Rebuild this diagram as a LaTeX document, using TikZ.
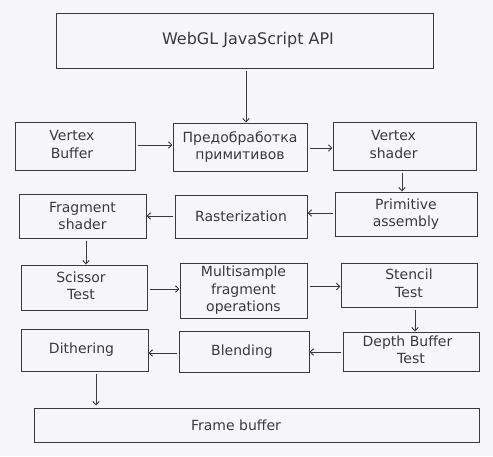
\documentclass[tikz,border=0pt]{standalone}
\usepackage{fontspec}
\setmainfont{DejaVu Sans}
\usetikzlibrary{arrows.meta}
\definecolor{bg}{HTML}{F7F7F9}
\definecolor{ink}{HTML}{3A3A3A}
\tikzset{
  box/.style={draw=ink, line width=1pt, inner sep=0pt, align=center,
    text=ink, font=\fontsize{14}{17.5}\selectfont},
  arr/.style={draw=ink, line width=0.9pt, shorten <=2pt,
    -{Straight Barb[length=3.5pt,width=6.5pt,line width=0.9pt]}}
}
\begin{document}
\begin{tikzpicture}[x=1pt,y=-1pt]
\fill[bg] (0,0) rectangle (493,456);
\useasboundingbox (0,0) rectangle (493,456);

\node[box, minimum width=377, minimum height=55, font=\fontsize{16}{19}\selectfont] (api) at (244.5,40.5) {\hspace*{7pt}WebGL JavaScript API};

\node[box, minimum width=120, minimum height=48] (vb) at (75,146) {\begin{tabular}{@{}c@{}}Vertex\\Buffer\end{tabular}\hspace*{6pt}};
\node[box, minimum width=134, minimum height=48] (pre) at (240,147) {Предобработка\\примитивов};
\node[box, minimum width=143, minimum height=48] (vs) at (404.5,146) {\begin{tabular}{@{}c@{}}Vertex\\shader\end{tabular}\hspace*{22pt}};

\node[box, minimum width=127, minimum height=44] (fs) at (82.5,216) {Fragment\\shader};
\node[box, minimum width=132, minimum height=43] (ras) at (241,216.5) {Rasterization};
\node[box, minimum width=142, minimum height=44] (pa) at (406,214) {Primitive\\assembly};

\node[box, minimum width=126, minimum height=45] (sc) at (84,287.5) {\begin{tabular}{@{}c@{}}Scissor\\Test\end{tabular}\hspace*{6pt}};
\node[box, minimum width=127, minimum height=55] (ms) at (243.5,290.5) {Multisample\\fragment\\operations};
\node[box, minimum width=136, minimum height=44] (st) at (409,285) {\raisebox{2pt}{\begin{tabular}{@{}c@{}}Stencil\\Test\end{tabular}}};

\node[box, minimum width=127, minimum height=42] (di) at (84.5,350) {Dithering\hspace*{6pt}};
\node[box, minimum width=130, minimum height=41] (bl) at (244,351.5) {Blending\hspace*{4pt}};
\node[box, minimum width=136, minimum height=39] (db) at (411,351.5) {\begin{tabular}{@{}c@{}}Depth Buffer\\\hspace*{7pt}Test\end{tabular}\hspace*{7pt}};

\node[box, minimum width=445, minimum height=34] (fb) at (256.5,425) {Frame buffer\hspace*{41pt}};

\draw[arr] ([xshift=1.5pt]api.south) -- ([xshift=1.5pt]api.south |- pre.north);
\draw[arr] ([yshift=1pt]vb.east) -- ([yshift=1pt]vb.east -| pre.west);
\draw[arr] ([yshift=-1pt]pre.east) -- ([yshift=-1pt]pre.east -| vs.west);
\draw[arr] ([xshift=-2.5pt]vs.south) -- ([xshift=-2.5pt]vs.south |- pa.north);
\draw[arr] ([yshift=1pt]pa.west) -- ([yshift=1pt]pa.west -| ras.east);
\draw[arr] ([yshift=0.5pt]ras.west) -- ([yshift=0.5pt]ras.west -| fs.east);
\draw[arr] ([xshift=3.5pt]fs.south) -- ([xshift=3.5pt]fs.south |- sc.north);
\draw[arr] ([yshift=-1.5pt]sc.east) -- ([yshift=-1.5pt]sc.east -| ms.west);
\draw[arr] ([yshift=-1.5pt]st.west -| ms.east) -- ([yshift=-1.5pt]st.west);
\draw[arr] ([xshift=6pt]st.south) -- ([xshift=6pt]st.south |- db.north);
\draw[arr] ([yshift=-0.5pt]db.west) -- ([yshift=-0.5pt]db.west -| bl.east);
\draw[arr] ([yshift=-1.5pt]bl.west) -- ([yshift=-1.5pt]bl.west -| di.east);
\draw[arr, shorten >=2pt] ([xshift=11.5pt]di.south) -- ([xshift=11.5pt]di.south |- fb.north);
\end{tikzpicture}
\end{document}
